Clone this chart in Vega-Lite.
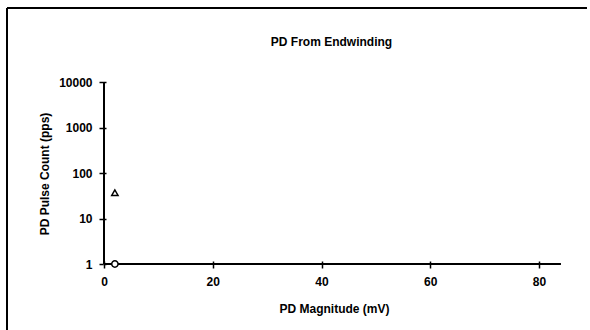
{
  "$schema": "https://vega.github.io/schema/vega-lite/v6.json",
  "width": 617,
  "height": 352,
  "autosize": {"type": "none"},
  "padding": {"left": 7, "top": 8, "right": -34, "bottom": -30},
  "background": "white",
  "config": {
    "view": {"stroke": null},
    "font": "Liberation Sans"
  },
  "title": {
    "text": "PD From Endwinding",
    "font": "Liberation Sans",
    "fontSize": 12,
    "fontWeight": "bold",
    "color": "black",
    "anchor": "middle",
    "frame": "group",
    "dx": 16,
    "dy": 55,
    "baseline": "alphabetic"
  },
  "data": {
    "values": [
      {"magnitude": 2, "count": 1, "series": "A"},
      {"magnitude": 2, "count": 37, "series": "B"}
    ]
  },
  "resolve": {"axis": {"x": "independent", "y": "independent"}},
  "layer": [
    {
      "mark": {"type": "rule", "color": "black", "strokeWidth": 2},
      "encoding": {
        "x": {"datum": -17.84, "type": "quantitative", "axis": null},
        "x2": {"datum": 88.8},
        "y": {"datum": 423100, "type": "quantitative", "axis": null}
      }
    },
    {
      "mark": {"type": "rule", "color": "black", "strokeWidth": 2},
      "encoding": {
        "x": {"datum": -17.84, "type": "quantitative", "axis": null},
        "y": {"datum": 0.00777, "type": "quantitative", "axis": null},
        "y2": {"datum": 423100}
      }
    },
    {
      "mark": {"type": "rule", "color": "black", "strokeWidth": 2},
      "encoding": {
        "x": {"datum": 0, "type": "quantitative", "axis": null},
        "y": {
          "datum": 1,
          "type": "quantitative",
          "axis": {
            "orient": "left",
            "title": null,
            "values": [1, 10, 100, 1000, 10000],
            "labels": false,
            "domain": false,
            "grid": false,
            "offset": -96,
            "tickSize": -3,
            "tickWidth": 1.5,
            "tickColor": "black"
          }
        },
        "y2": {"datum": 10000}
      }
    },
    {
      "mark": {"type": "rule", "color": "black", "strokeWidth": 2},
      "encoding": {
        "x": {
          "datum": 0,
          "type": "quantitative",
          "axis": {
            "orient": "bottom",
            "title": null,
            "values": [0, 20, 40, 60, 80],
            "labels": false,
            "domain": false,
            "grid": false,
            "offset": -96,
            "tickSize": -3,
            "tickWidth": 1.5,
            "tickColor": "black"
          }
        },
        "x2": {"datum": 84},
        "y": {"datum": 1, "type": "quantitative", "axis": null}
      }
    },
    {
      "mark": {"type": "point", "fill": "white", "stroke": "black", "strokeWidth": 1.5, "opacity": 1, "filled": false},
      "encoding": {
        "x": {
          "field": "magnitude",
          "type": "quantitative",
          "scale": {"domain": [-17.84, 95.63], "nice": false, "zero": false},
          "axis": {
            "orient": "bottom",
            "title": "PD Magnitude (mV)",
            "values": [0, 20, 40, 60, 80],
            "domain": false,
            "grid": false,
            "offset": -96,
            "tickSize": 4,
            "tickWidth": 1.5,
            "tickColor": "black",
            "labelFont": "Liberation Sans",
            "labelFontSize": 12,
            "labelFontWeight": "bold",
            "labelColor": "black",
            "labelPadding": 8,
            "labelFlush": false,
            "labelOverlap": false,
            "titleFont": "Liberation Sans",
            "titleFontSize": 12,
            "titleFontWeight": "bold",
            "titleColor": "black",
            "titleX": 327,
            "titleY": 48,
            "titleAlign": "center",
            "titleBaseline": "alphabetic"
          }
        },
        "y": {
          "field": "count",
          "type": "quantitative",
          "scale": {"type": "log", "domain": [0.00777, 423100], "nice": false},
          "axis": {
            "orient": "left",
            "title": "PD Pulse Count (pps)",
            "values": [1, 10, 100, 1000, 10000],
            "format": "d",
            "domain": false,
            "grid": false,
            "offset": -96,
            "tickSize": 4,
            "tickWidth": 1.5,
            "tickColor": "black",
            "labelFont": "Liberation Sans",
            "labelFontSize": 12,
            "labelFontWeight": "bold",
            "labelColor": "black",
            "labelPadding": 7,
            "labelOverlap": false,
            "titleFont": "Liberation Sans",
            "titleFontSize": 12,
            "titleFontWeight": "bold",
            "titleColor": "black",
            "titleX": -55,
            "titleY": 165.5,
            "titleAngle": 270,
            "titleAlign": "center",
            "titleBaseline": "alphabetic"
          }
        },
        "shape": {
          "field": "series",
          "type": "nominal",
          "scale": {"domain": ["A", "B"], "range": ["circle", "triangle-up"]},
          "legend": null
        },
        "size": {"value": 40}
      }
    }
  ]
}
